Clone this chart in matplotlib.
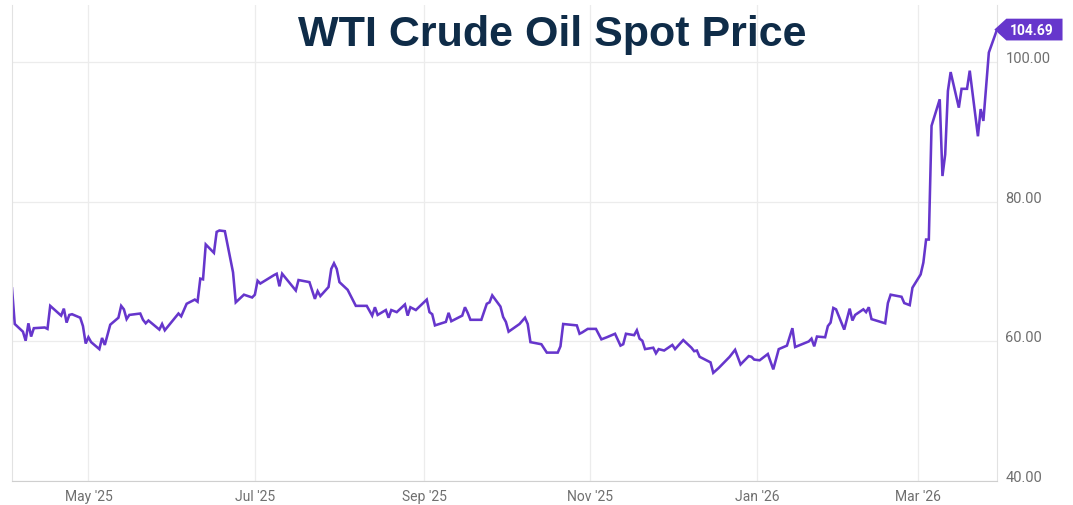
import pandas as pd
import matplotlib
matplotlib.use('Agg')
import matplotlib.pyplot as plt
import matplotlib.dates as mdates
from matplotlib.path import Path

# WTI spot price
dates = [
    "2025-04-03", "2025-04-04", "2025-04-07", "2025-04-08", "2025-04-09", "2025-04-10", "2025-04-11",
    "2025-04-15", "2025-04-16", "2025-04-17", "2025-04-21", "2025-04-22", "2025-04-23", "2025-04-24",
    "2025-04-25", "2025-04-28", "2025-04-29", "2025-04-30", "2025-05-01", "2025-05-02", "2025-05-05",
    "2025-05-06", "2025-05-07", "2025-05-09", "2025-05-12", "2025-05-13", "2025-05-14", "2025-05-15",
    "2025-05-16", "2025-05-20", "2025-05-21", "2025-05-22", "2025-05-23", "2025-05-27", "2025-05-28",
    "2025-05-29", "2025-06-03", "2025-06-04", "2025-06-06", "2025-06-09", "2025-06-10", "2025-06-11",
    "2025-06-12", "2025-06-13", "2025-06-16", "2025-06-17", "2025-06-18", "2025-06-20", "2025-06-23",
    "2025-06-24", "2025-06-27", "2025-06-30", "2025-07-01", "2025-07-02", "2025-07-03", "2025-07-08",
    "2025-07-09", "2025-07-10", "2025-07-11", "2025-07-16", "2025-07-17", "2025-07-21", "2025-07-23",
    "2025-07-24", "2025-07-25", "2025-07-28", "2025-07-29", "2025-07-30", "2025-07-31", "2025-08-01",
    "2025-08-04", "2025-08-07", "2025-08-11", "2025-08-13", "2025-08-14", "2025-08-15", "2025-08-18",
    "2025-08-19", "2025-08-20", "2025-08-22", "2025-08-25", "2025-08-26", "2025-08-27", "2025-08-29",
    "2025-09-02", "2025-09-03", "2025-09-04", "2025-09-05", "2025-09-09", "2025-09-10", "2025-09-11",
    "2025-09-15", "2025-09-16", "2025-09-17", "2025-09-18", "2025-09-22", "2025-09-24", "2025-09-25",
    "2025-09-26", "2025-09-29", "2025-09-30", "2025-10-01", "2025-10-02", "2025-10-06", "2025-10-08",
    "2025-10-09", "2025-10-10", "2025-10-14", "2025-10-16", "2025-10-20", "2025-10-21", "2025-10-22",
    "2025-10-27", "2025-10-28", "2025-10-29", "2025-10-31", "2025-11-03", "2025-11-05", "2025-11-07",
    "2025-11-10", "2025-11-12", "2025-11-13", "2025-11-14", "2025-11-17", "2025-11-18", "2025-11-19",
    "2025-11-20", "2025-11-21", "2025-11-24", "2025-11-25", "2025-11-26", "2025-11-28", "2025-12-01",
    "2025-12-02", "2025-12-05", "2025-12-08", "2025-12-09", "2025-12-10", "2025-12-11", "2025-12-15",
    "2025-12-16", "2025-12-18", "2025-12-22", "2025-12-24", "2025-12-26", "2025-12-29", "2025-12-30",
    "2025-12-31", "2026-01-02", "2026-01-05", "2026-01-07", "2026-01-09", "2026-01-12", "2026-01-14",
    "2026-01-15", "2026-01-20", "2026-01-21", "2026-01-22", "2026-01-23", "2026-01-26", "2026-01-27",
    "2026-01-28", "2026-01-29", "2026-01-30", "2026-02-02", "2026-02-04", "2026-02-05", "2026-02-06",
    "2026-02-09", "2026-02-10", "2026-02-11", "2026-02-12", "2026-02-17", "2026-02-18", "2026-02-19",
    "2026-02-23", "2026-02-24", "2026-02-26", "2026-02-27", "2026-03-02", "2026-03-03", "2026-03-04",
    "2026-03-05", "2026-03-06", "2026-03-09", "2026-03-10", "2026-03-11", "2026-03-12", "2026-03-13",
    "2026-03-16", "2026-03-17", "2026-03-19", "2026-03-20", "2026-03-23", "2026-03-24", "2026-03-25",
    "2026-03-27", "2026-03-30",
]
prices = [
    67.6, 62.5, 61.4, 60.1, 62.6, 60.7, 61.9,
    62.0, 61.8, 65.1, 63.7, 64.7, 62.7, 63.8,
    63.9, 63.4, 62.2, 59.7, 60.6, 59.9, 58.9,
    60.5, 59.5, 62.4, 63.4, 65.1, 64.6, 63.2,
    63.8, 64.0, 63.1, 62.6, 63.0, 61.7, 62.5,
    61.6, 64.0, 63.6, 65.4, 66.0, 65.7, 69.0,
    68.9, 73.9, 72.7, 75.7, 75.9, 75.8, 69.9,
    65.6, 66.7, 66.3, 66.7, 68.7, 68.3, 69.5,
    69.7, 67.9, 69.7, 67.3, 68.8, 68.5, 66.1,
    67.2, 66.5, 67.8, 70.4, 71.2, 70.4, 68.5,
    67.4, 65.1, 65.1, 63.7, 64.9, 63.8, 64.5,
    63.4, 64.5, 64.2, 65.3, 63.7, 64.9, 64.5,
    66.0, 64.2, 63.9, 62.3, 62.8, 64.1, 62.9,
    63.7, 64.9, 64.1, 63.1, 63.1, 65.4, 65.6,
    66.6, 65.0, 63.5, 62.8, 61.4, 62.5, 63.4,
    62.5, 59.9, 59.6, 58.4, 58.4, 59.3, 62.5,
    62.3, 61.1, 61.3, 61.8, 61.8, 60.3, 60.6,
    61.1, 59.4, 59.6, 61.1, 60.9, 61.6, 60.4,
    60.1, 58.9, 59.1, 58.3, 58.9, 58.7, 59.5,
    58.9, 60.2, 59.1, 58.6, 58.7, 57.8, 57.0,
    55.5, 56.2, 57.8, 58.8, 56.7, 57.9, 57.8,
    57.4, 57.3, 58.2, 56.0, 58.9, 59.4, 61.9,
    59.2, 60.0, 60.4, 59.3, 60.7, 60.6, 62.2,
    62.7, 64.8, 64.6, 61.7, 64.7, 63.0, 63.8,
    64.6, 64.2, 64.9, 63.2, 62.6, 65.5, 66.7,
    66.4, 65.5, 65.2, 67.7, 69.6, 71.3, 74.6,
    74.6, 90.9, 94.7, 83.7, 86.8, 95.9, 98.6,
    93.5, 96.2, 96.2, 98.8, 89.4, 93.3, 91.6,
    101.4, 104.69,
]
y_ticks = [40, 60, 80, 100]
title = "WTI Crude Oil Spot Price"

df = pd.DataFrame({'date': pd.to_datetime(dates), 'price': prices})

purple = '#6636cc'
grid_c = '#ececec'
label_c = '#6f6f6f'


def tag_box(x0, y0, width, height, mutation_size):
    # rectangle with a pointer on the left, like the last-value tag
    pad = mutation_size * 0.28
    x0, y0 = x0 - pad, y0 - pad
    width, height = width + 3.2 * pad, height + 2 * pad
    tip = height * 0.55
    verts = [(x0 - tip, y0 + height / 2), (x0, y0), (x0 + width, y0),
             (x0 + width, y0 + height), (x0, y0 + height), (x0 - tip, y0 + height / 2)]
    return Path(verts, closed=True)


fig = plt.figure(figsize=(10.73, 5.06), dpi=100)
ax = fig.add_axes([0.0112, 0.0474, 0.918, 0.9406])

ax.plot(df['date'], df['price'], color=purple, lw=1.85, solid_joinstyle='miter')

ax.set_xlim(df['date'].iloc[0], df['date'].iloc[-1])
ax.set_ylim(40, 108.2)

ax.xaxis.set_major_locator(mdates.MonthLocator(bymonth=[1, 3, 5, 7, 9, 11]))
ax.xaxis.set_major_formatter(mdates.DateFormatter("%b '%y"))
ax.yaxis.tick_right()
ax.set_yticks(y_ticks)
ax.set_yticklabels(['%.2f' % t for t in y_ticks])
ax.tick_params(axis='y', length=0, pad=6, labelsize=10.5, labelcolor=label_c)
ax.tick_params(axis='x', length=0, pad=6, labelsize=10, labelcolor=label_c)
for lab in ax.get_yticklabels():
    lab.set_fontfamily('Roboto')
    lab.set_va('baseline')
for lab in ax.get_xticklabels():
    lab.set_fontfamily('Roboto')

ax.grid(True, color=grid_c, lw=0.9)
ax.set_axisbelow(True)
ax.spines['top'].set_visible(False)
ax.spines['left'].set_color('#e2e2e2')
ax.spines['right'].set_color('#e2e2e2')
ax.spines['bottom'].set_color('#cfcfcf')

# last value tag
last_d = df['date'].iloc[-1]
last_v = df['price'].iloc[-1]
ax.annotate('%.2f' % last_v, xy=(last_d, last_v), xytext=(9.5, 0), textcoords='offset points',
            ha='left', va='center', color='white', fontsize=10, fontweight='bold', family='Roboto',
            bbox=dict(boxstyle=tag_box, fc=purple, ec='none'), annotation_clip=False)

fig.text(0.515, 0.93, title, ha='center', va='center', fontsize=31, fontweight='bold',
         color='#0f2c48', family='Liberation Sans')

fig.savefig('out.png', dpi=100)
